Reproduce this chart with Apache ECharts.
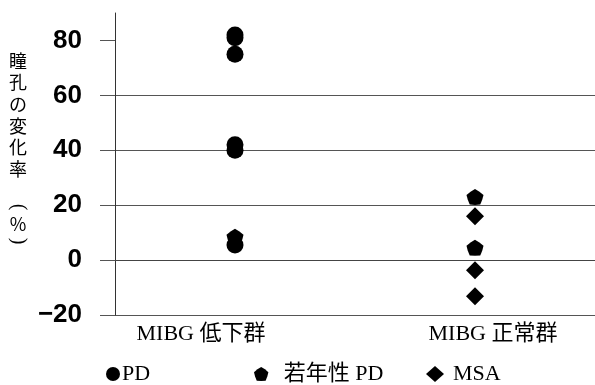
<!DOCTYPE html>
<html>
<head>
<meta charset="utf-8">
<script src="https://cdn.jsdelivr.net/npm/echarts@6/dist/echarts.min.js"></script>
<style>
  html, body { margin: 0; padding: 0; background: #fff; }
  #chart { width: 595px; height: 385px; }
</style>
</head>
<body>
<div id="chart"></div>
<script>
// Groups on the x axis
const categories = ['MIBG 低下群', 'MIBG 正常群'];

// Pupil change rate (%) per patient, as [group, value]
const pdValues = [
  ['MIBG 低下群', 82], ['MIBG 低下群', 81], ['MIBG 低下群', 75],
  ['MIBG 低下群', 42], ['MIBG 低下群', 40], ['MIBG 低下群', 5.5]
];
const juvenilePdValues = [
  ['MIBG 低下群', 8.5],
  ['MIBG 正常群', 23], ['MIBG 正常群', 4.5]
];
const msaValues = [
  ['MIBG 正常群', 16], ['MIBG 正常群', -3.7], ['MIBG 正常群', -13.2]
];

// Y axis ticks
const yTicks = [-20, 0, 20, 40, 60, 80];

const serifFont = "'Liberation Serif', 'Noto Sans CJK JP', serif";
const cjkFont = "'Noto Sans CJK JP', sans-serif";
const gearPath = 'path://M0,-10 L5,-6.88 L9.51,-3.09 L8.08,2.63 L5.88,8.09 L0,8.5 L-5.88,8.09 L-8.08,2.63 L-9.51,-3.09 L-5,-6.88 Z';

const chart = echarts.init(document.getElementById('chart'), null, { renderer: 'canvas' });

function legendItem(name, icon, left, w, h, gap) {
  return {
    data: [{ name: name, icon: icon }],
    left: left, top: 358,
    itemWidth: w, itemHeight: h, itemGap: 0,
    selectedMode: false,
    textStyle: { color: '#000', fontFamily: serifFont, fontSize: 22, padding: [0, 0, 0, gap] }
  };
}

chart.setOption({
  animation: false,
  grid: { left: 115, right: 0, top: 13, bottom: 70 },
  xAxis: {
    type: 'category',
    data: categories,
    boundaryGap: true,
    axisLine: { show: true, lineStyle: { color: '#444', width: 1 } },
    axisTick: { show: false },
    axisLabel: {
      margin: 8,
      color: '#000',
      fontFamily: serifFont,
      fontSize: 22,
      formatter: function (v) {
        return v === categories[0] ? '{a|' + v + '}' : '{b|' + v + '}';
      },
      rich: {
        a: { fontFamily: serifFont, fontSize: 22, color: '#000', padding: [0, 68, 0, 0] },
        b: { fontFamily: serifFont, fontSize: 22, color: '#000', padding: [0, 0, 0, 36] }
      }
    }
  },
  yAxis: {
    type: 'value',
    min: -20, max: 90, interval: 20,
    axisLine: { show: true, lineStyle: { color: '#333', width: 1 } },
    axisTick: { show: true, length: 15, inside: false, customValues: yTicks, lineStyle: { color: '#555', width: 1 } },
    splitLine: { show: true, showMaxLine: false, lineStyle: { color: '#555', width: 1 } },
    axisLabel: {
      customValues: yTicks,
      margin: 33,
      color: '#000',
      fontFamily: "'Liberation Sans', Arial, sans-serif",
      fontWeight: 'bold',
      fontSize: 26,
      formatter: function (v) { return v < 0 ? '\u2212' + Math.abs(v) : String(v); }
    }
  },
  legend: [
    legendItem('PD', 'circle', 101, 14, 14, -3),
    legendItem('若年性 PD', gearPath, 249, 15, 14, 10),
    legendItem('MSA', 'diamond', 421, 18, 16, 4)
  ],
  graphic: [
    {
      // axis title, written top to bottom
      type: 'text',
      left: 9, top: 50,
      style: {
        text: '瞳\n孔\nの\n変\n化\n率',
        fill: '#000',
        font: '18px ' + cjkFont,
        lineHeight: 21.7,
        align: 'center'
      }
    },
    {
      // parentheses turned for vertical writing
      type: 'text', x: 18, y: 207, rotation: -Math.PI / 2,
      style: { text: '(', fill: '#000', font: '20px ' + serifFont, align: 'center', verticalAlign: 'middle' }
    },
    {
      type: 'text', x: 18, y: 224,
      style: { text: '%', fill: '#000', font: '18px ' + cjkFont, align: 'center', verticalAlign: 'middle' }
    },
    {
      type: 'text', x: 18, y: 241, rotation: -Math.PI / 2,
      style: { text: ')', fill: '#000', font: '20px ' + serifFont, align: 'center', verticalAlign: 'middle' }
    }
  ],
  series: [
    {
      name: 'PD', type: 'scatter', data: pdValues,
      symbol: 'circle', symbolSize: 17,
      itemStyle: { color: '#000', opacity: 1 }
    },
    {
      name: '若年性 PD', type: 'scatter', data: juvenilePdValues,
      symbol: gearPath, symbolSize: [17, 16],
      itemStyle: { color: '#000', opacity: 1 }
    },
    {
      name: 'MSA', type: 'scatter', data: msaValues,
      symbol: 'diamond', symbolSize: [18, 18],
      itemStyle: { color: '#000', opacity: 1 }
    }
  ]
});
</script>
</body>
</html>
